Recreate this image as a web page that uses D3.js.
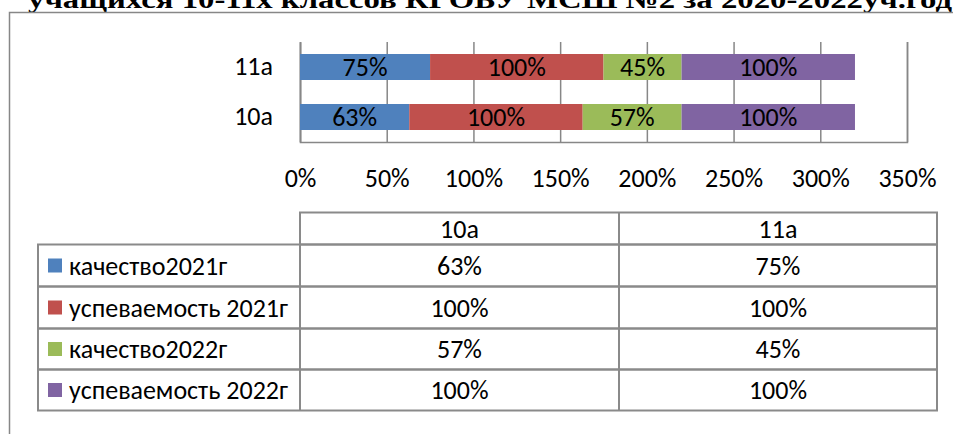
<!DOCTYPE html>
<html><head><meta charset="utf-8">
<script src="https://cdn.jsdelivr.net/npm/d3@7"></script>
<style>
html,body{margin:0;padding:0;background:#fff;overflow:hidden;}
svg{display:block;}
</style></head>
<body>
<script>
const title = "учащихся 10-11х классов КГОБУ МСШ №2 за 2020-2022уч.год";
const categories = ["10а", "11а"];
const seriesNames = ["качество2021г", "успеваемость 2021г", "качество2022г", "успеваемость 2022г"];
const kachestvo2021 = [63, 75];
const uspevaemost2021 = [100, 100];
const kachestvo2022 = [57, 45];
const uspevaemost2022 = [100, 100];
const seriesColors = ["#4F81BD", "#C0504D", "#9BBB59", "#8064A2"];
const xTicks = [0, 50, 100, 150, 200, 250, 300, 350];

const seriesValues = [kachestvo2021, uspevaemost2021, kachestvo2022, uspevaemost2022];

const W = 953, H = 434;
const FONT = "Carlito, Calibri, Lato, sans-serif";
const FS = 26;
const GRID = "#878787";

const svg = d3.select("body").append("svg").attr("width", W).attr("height", H);

// title (clipped at the top like the reference)
svg.append("text")
  .attr("x", 28).attr("y", 8)
  .attr("font-family", "Liberation Serif, Times New Roman, serif")
  .attr("font-weight", "bold")
  .attr("font-size", 26)
  .attr("textLength", 924)
  .attr("lengthAdjust", "spacingAndGlyphs")
  .attr("fill", "#000")
  .text(title);

// chart frame
svg.append("path")
  .attr("d", "M9.5," + H + "V12.5H" + W)
  .attr("fill", "none").attr("stroke", GRID).attr("stroke-width", 1.5);

// scales
const plot = {left: 300, right: 907, top: 42, bottom: 142};
const x = d3.scaleLinear().domain([0, 350]).range([plot.left, plot.right]);
const y = d3.scaleBand().domain(categories.slice().reverse()).range([plot.top, plot.bottom])
  .paddingInner(0.48).paddingOuter(0.24);

// gridlines
const gridAxis = d3.axisBottom(x).tickValues(xTicks).tickSize(-(plot.bottom - plot.top)).tickFormat("");
const gridG = svg.append("g").attr("transform", `translate(0,${plot.bottom})`).call(gridAxis);
gridG.select(".domain").attr("stroke", GRID).attr("stroke-width", 1.5);
gridG.selectAll(".tick line").attr("stroke", GRID).attr("stroke-width", 1.5);

// left axis line
const yAxis = d3.axisLeft(y).tickSize(0).tickPadding(27);
const yG = svg.append("g").attr("transform", `translate(${plot.left},0)`).call(yAxis);
yG.select(".domain").attr("stroke", GRID).attr("stroke-width", 1.5);
yG.selectAll(".tick text").attr("font-family", FONT).attr("font-size", FS).attr("fill", "#000");

// x tick labels
const xLab = d3.axisBottom(x).tickValues(xTicks).tickSize(0).tickPadding(0).tickFormat(d => d + "%");
const xLabG = svg.append("g").attr("transform", `translate(0,${plot.bottom})`).call(xLab);
xLabG.select(".domain").remove();
xLabG.selectAll(".tick text").attr("y", 45).attr("dy", 0)
  .attr("font-family", FONT).attr("font-size", FS).attr("fill", "#000");

// stacked bars
const rows = categories.map((c, i) => {
  const o = {cat: c};
  seriesNames.forEach((s, j) => o[s] = seriesValues[j][i]);
  return o;
});
const stacked = d3.stack().keys(seriesNames)(rows);
const layers = svg.append("g").selectAll("g").data(stacked).join("g")
  .attr("fill", (d, i) => seriesColors[i]);
layers.selectAll("rect").data(d => d).join("rect")
  .attr("x", d => x(d[0]))
  .attr("width", d => x(d[1]) - x(d[0]))
  .attr("y", d => y(d.data.cat))
  .attr("height", y.bandwidth());
layers.selectAll("text").data(d => d.map(v => Object.assign([v[0], v[1]], {data: v.data})))
  .join("text")
  .attr("x", d => (x(d[0]) + x(d[1])) / 2)
  .attr("y", d => y(d.data.cat) + y.bandwidth() / 2)
  .attr("dy", "0.36em")
  .attr("text-anchor", "middle")
  .attr("font-family", FONT).attr("font-size", FS).attr("fill", "#000")
  .text(d => (d[1] - d[0]) + "%");

// data table
const colX = [38, 300, 619, 937];
const rowY = [212.5, 244.5, 286.5, 328.5, 369.5, 410.5];
const TB = "#8a8a8a";
const tg = svg.append("g");
tg.append("rect").attr("x", colX[1]).attr("y", rowY[0]).attr("width", colX[3] - colX[1]).attr("height", rowY[1] - rowY[0])
  .attr("fill", "none").attr("stroke", TB).attr("stroke-width", 2);
tg.append("line").attr("x1", colX[2]).attr("x2", colX[2]).attr("y1", rowY[0]).attr("y2", rowY[5])
  .attr("stroke", TB).attr("stroke-width", 2);
seriesNames.forEach((s, i) => {
  tg.append("rect").attr("x", colX[0]).attr("y", rowY[i + 1]).attr("width", colX[3] - colX[0]).attr("height", rowY[i + 2] - rowY[i + 1])
    .attr("fill", "none").attr("stroke", TB).attr("stroke-width", 2);
});
tg.append("line").attr("x1", colX[1]).attr("x2", colX[1]).attr("y1", rowY[0]).attr("y2", rowY[5])
  .attr("stroke", TB).attr("stroke-width", 2);
categories.forEach((c, j) => {
  tg.append("text").attr("x", (colX[j + 1] + colX[j + 2]) / 2).attr("y", (rowY[0] + rowY[1]) / 2)
    .attr("dy", "0.36em").attr("text-anchor", "middle")
    .attr("font-family", FONT).attr("font-size", FS).attr("fill", "#000").text(c);
});
seriesNames.forEach((s, i) => {
  const cy = (rowY[i + 1] + rowY[i + 2]) / 2;
  tg.append("rect").attr("x", 48).attr("y", cy - 7).attr("width", 14).attr("height", 14).attr("fill", seriesColors[i]);
  tg.append("text").attr("x", 69).attr("y", cy).attr("dy", "0.36em")
    .attr("font-family", FONT).attr("font-size", FS).attr("fill", "#000").text(s);
  categories.forEach((c, j) => {
    tg.append("text").attr("x", (colX[j + 1] + colX[j + 2]) / 2).attr("y", cy)
      .attr("dy", "0.36em").attr("text-anchor", "middle")
      .attr("font-family", FONT).attr("font-size", FS).attr("fill", "#000").text(seriesValues[i][j] + "%");
  });
});
</script>
</body></html>
